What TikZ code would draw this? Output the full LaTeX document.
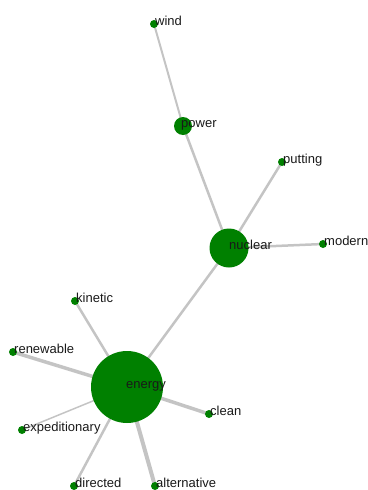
\documentclass[tikz,border=0pt]{standalone}
\usepackage{fontspec}
\setmainfont{Liberation Sans}
\usepackage{xcolor}
\usetikzlibrary{backgrounds}

\definecolor{termgreen}{RGB}{0,128,0}
\definecolor{linkgray}{RGB}{196,196,196}

\tikzset{
    term/.style={circle, fill=termgreen, inner sep=0pt, minimum size=#1},
    term/.default=8pt,
    link/.style={draw=linkgray, line width=#1},
    link/.default=2.5pt,
    word/.style={anchor=base west, inner sep=0pt, text=black!90,
        font=\fontsize{13}{15}\selectfont},
}

\begin{document}
\begin{tikzpicture}[x=1pt, y=-1pt]
        \useasboundingbox (0,0) rectangle (367,490);
        % terms
        \node[term=72pt] (energy) at (127,387) {};
        \node[term=39pt] (nuclear) at (229,248) {};
        \node[term=18pt] (power) at (183,126) {};
        \node[term] (wind) at (154,24) {};
        \node[term] (putting) at (282,162) {};
        \node[term] (modern) at (323,244) {};
        \node[term] (kinetic) at (75,301) {};
        \node[term] (renewable) at (13,352) {};
        \node[term] (clean) at (209,414) {};
        \node[term] (expeditionary) at (22,430) {};
        \node[term] (directed) at (74,486) {};
        \node[term] (alternative) at (155,486) {};
        % links
        \begin{scope}[on background layer]
            \draw[link] (energy.center) -- (nuclear.center);
            \draw[link] (energy.center) -- (kinetic.center);
            \draw[link=3.5pt] (energy.center) -- (renewable.center);
            \draw[link=1.5pt] (energy.center) -- (expeditionary.center);
            \draw[link] (energy.center) -- (directed.center);
            \draw[link=4pt] (energy.center) -- (alternative.center);
            \draw[link=3.5pt] (energy.center) -- (clean.center);
            \draw[link] (nuclear.center) -- (putting.center);
            \draw[link] (nuclear.center) -- (modern.center);
            \draw[link] (nuclear.center) -- (power.center);
            \draw[link=2pt] (power.center) -- (wind.center);
        \end{scope}
        % words
        \node[word] (energy-w) at ([xshift=-1pt, yshift=-1pt]energy.center) {energy};
        \node[word] (nuclear-w) at ([yshift=-1pt]nuclear.center) {nuclear};
        \node[word] (power-w) at ([xshift=-2pt, yshift=-1pt]power.center) {power};
        \node[word] (wind-w) at ([xshift=1pt, yshift=-1pt]wind.center) {wind};
        \node[word] (putting-w) at ([xshift=1pt, yshift=-1pt]putting.center) {putting};
        \node[word] (modern-w) at ([xshift=1pt, yshift=-1pt]modern.center) {modern};
        \node[word] (kinetic-w) at ([xshift=1pt, yshift=-1pt]kinetic.center) {kinetic};
        \node[word] (renewable-w) at ([xshift=1pt, yshift=-1pt]renewable.center) {renewable};
        \node[word] (clean-w) at ([xshift=1pt, yshift=-1pt]clean.center) {clean};
        \node[word] (expeditionary-w) at ([xshift=1pt, yshift=-1pt]expeditionary.center) {expeditionary};
        \node[word] (directed-w) at ([xshift=1pt, yshift=-1pt]directed.center) {directed};
        \node[word] (alternative-w) at ([xshift=1pt, yshift=-1pt]alternative.center) {alternative};
    \end{tikzpicture}
\end{document}
